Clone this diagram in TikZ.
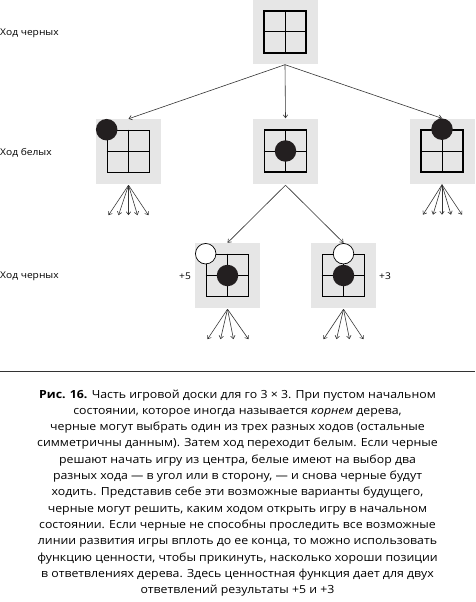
\documentclass[tikz,border=0pt]{standalone}
\usepackage{fontspec}
\setmainfont[FakeStretch=1.1]{Open Sans}
\usetikzlibrary{arrows.meta}
\definecolor{boxgray}{HTML}{E6E6E6}
\definecolor{stoneblack}{HTML}{231F20}
\definecolor{linegray}{HTML}{333333}
\begin{document}
\begin{tikzpicture}[x=1pt,y=1pt,
  graybox/.style={fill=boxgray, draw=none, minimum size=65pt, inner sep=0pt},
  board/.style={draw=black, line width=1.6pt, minimum size=42pt, inner sep=0pt},
  gridline/.style={draw=black, line width=1.0pt},
  bstone/.style={circle, fill=stoneblack, minimum size=21.5pt, inner sep=0pt},
  wstone/.style={circle, fill=white, draw=black, line width=0.7pt, minimum size=20.5pt, inner sep=0pt},
  arr/.style={draw=linegray, line width=0.6pt, -{Straight Barb[length=3pt,width=4.5pt]}},
  rowlabel/.style={anchor=west, inner sep=0pt, font=\fontsize{9.3}{11}\selectfont},
  score/.style={inner sep=0pt, font=\fontsize{9.3}{11}\selectfont},
  caption/.style={align=center, inner sep=0pt, font=\fontsize{11.2}{16.3}\selectfont}
]
\useasboundingbox (0,0) rectangle (475,-602);

% row labels
\node[rowlabel] (l1) at (0,-33) {Ход черных};
\node[rowlabel] (l2) at (0,-153) {Ход белых};
\node[rowlabel] (l3) at (0,-276) {Ход черных};

% gray boxes
\node[graybox] (g0) at (285,-32) {};
\node[graybox] (gL) at (128.5,-151.5) {};
\node[graybox] (gC) at (285.5,-151) {};
\node[graybox] (gR) at (442,-151) {};
\node[graybox] (gLL) at (227.5,-275.5) {};
\node[graybox] (gLR) at (343.5,-275.5) {};

% boards
\foreach \g in {0,L,C,R,LL,LR}{
  \node[board] (b\g) at (g\g) {};
  \draw[gridline] (b\g.north) -- (b\g.south) (b\g.west) -- (b\g.east);
}

% stones
\node[bstone] (sL) at (bL.north west) {};
\node[bstone] (sC) at (bC.center) {};
\node[bstone] (sR) at (bR.north) {};
\node[wstone] (wLL) at (bLL.north west) {};
\node[bstone] (sLL) at (bLL.center) {};
\node[wstone] (wLR) at (bLR.north) {};
\node[bstone] (sLR) at (bLR.center) {};

% scores
\node[score] (p5) at (185,-276) {+5};
\node[score] (p3) at (385,-276) {+3};

% tree arrows
\draw[arr] (g0.south) -- (gL.north);
\draw[arr] (g0.south) -- (gC.north);
\draw[arr] (g0.south) -- (gR.north);
\draw[arr] ([yshift=-1.5pt]gC.south) -- (gLL.north);
\draw[arr] ([yshift=-1.5pt]gC.south) -- (gLR.north);

% fans
\foreach \g/\dx in {L/-20,L/-10,L/0,L/9,L/20,R/-19,R/-9,R/0,R/9,R/20}{
  \coordinate (f\g\dx) at ([xshift=\dx pt, yshift=-31pt]g\g.south);
  \draw[arr] ([yshift=-1pt]g\g.south) -- (f\g\dx);
}
\foreach \g/\dx in {LL/-20,LL/-7,LL/6,LL/21,LR/-20,LR/-7,LR/6,LR/20}{
  \coordinate (f\g\dx) at ([xshift=\dx pt, yshift=-31pt]g\g.south);
  \draw[arr] ([yshift=-1pt]g\g.south) -- (f\g\dx);
}

% separator
\coordinate (sepA) at (0,-371);
\coordinate (sepB) at (475,-371);
\draw[draw=linegray, line width=0.8pt] (sepA) -- (sepB);

% caption
\node[caption] (cap) at (237.5,-493) {%
\textbf{Рис. 16.} Часть игровой доски для го 3 × 3. При пустом начальном\\
состоянии, которое иногда называется \textit{корнем} дерева,\\
черные могут выбрать один из трех разных ходов (остальные\\
симметричны данным). Затем ход переходит белым. Если черные\\
решают начать игру из центра, белые имеют на выбор два\\
разных хода — в угол или в сторону, — и снова черные будут\\
ходить. Представив себе эти возможные варианты будущего,\\
черные могут решить, каким ходом открыть игру в начальном\\
состоянии. Если черные не способны проследить все возможные\\
линии развития игры вплоть до ее конца, то можно использовать\\
функцию ценности, чтобы прикинуть, насколько хороши позиции\\
в ответвлениях дерева. Здесь ценностная функция дает для двух\\
ответвлений результаты +5 и +3};
\end{tikzpicture}
\end{document}
